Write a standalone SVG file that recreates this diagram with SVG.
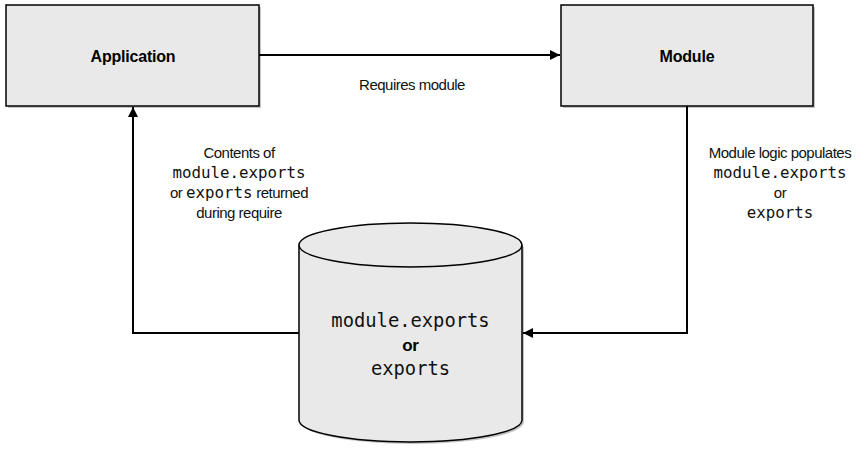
<svg xmlns="http://www.w3.org/2000/svg" width="867" height="454" viewBox="0 0 867 454">
<style>
.box{fill:#e9e9e9;stroke:#000;stroke-width:1.5}
.shadow{fill:#c4c4c4}
.title{font-family:"Liberation Sans",Arial,sans-serif;font-weight:bold;font-size:16px;text-anchor:middle;fill:#000;letter-spacing:-0.2px}
.lbl{font-family:"Liberation Sans",Arial,sans-serif;font-size:15px;text-anchor:middle;fill:#111;letter-spacing:-0.5px}
.mono{font-family:"DejaVu Sans Mono","Liberation Mono",monospace;font-size:15.8px;letter-spacing:0}
.cyl{font-family:"DejaVu Sans Mono","Liberation Mono",monospace;font-size:18.8px;text-anchor:middle;fill:#111}
.conn{fill:none;stroke:#000;stroke-width:2}
</style>
<defs>
<marker id="arr" viewBox="0 0 10 10" refX="10" refY="5" markerWidth="10" markerHeight="10" markerUnits="userSpaceOnUse" orient="auto">
<path d="M0,0 L10,5 L0,10 z" fill="#000"/>
</marker>
</defs>
<rect width="867" height="454" fill="#fff"/>
<g id="application">
<rect class="shadow" x="8" y="7" width="253" height="101"/>
<rect class="box" x="6" y="5" width="253" height="101"/>
<text class="title" x="133" y="62">Application</text>
</g>
<g id="module">
<rect class="shadow" x="563" y="7" width="252" height="101"/>
<rect class="box" x="561" y="5" width="252" height="101"/>
<text class="title" x="687" y="62">Module</text>
</g>
<g id="exports-store">
<path class="shadow" d="M301,247 L301,422 A111.5,22 0 0 0 524,422 L524,247 z"/>
<path class="box" d="M299,245 L299,420 A111.5,22 0 0 0 522,420 L522,245"/>
<ellipse class="box" cx="410.5" cy="245" rx="111.5" ry="22"/>
<text class="cyl" x="410.5" y="327">module.exports</text>
<text class="title" x="410.5" y="351" style="font-size:17px">or</text>
<text class="cyl" x="410.5" y="375">exports</text>
</g>
<g id="connectors">
<line class="conn" x1="259" y1="55" x2="560" y2="55" marker-end="url(#arr)"/>
<polyline class="conn" points="299,333 133,333 133,107" marker-end="url(#arr)"/>
<polyline class="conn" points="687,106 687,333 523,333" marker-end="url(#arr)"/>
</g>
<g id="labels">
<text class="lbl" x="412" y="90">Requires module</text>
<text class="lbl" x="239" y="158">Contents of</text>
<text class="lbl mono" x="239" y="178">module.exports</text>
<text class="lbl" x="239" y="198">or <tspan class="mono">exports</tspan> returned</text>
<text class="lbl" x="239" y="218">during require</text>
<text class="lbl" x="780" y="158">Module logic populates</text>
<text class="lbl mono" x="780" y="178">module.exports</text>
<text class="lbl" x="780" y="198">or</text>
<text class="lbl mono" x="780" y="218">exports</text>
</g>
</svg>
